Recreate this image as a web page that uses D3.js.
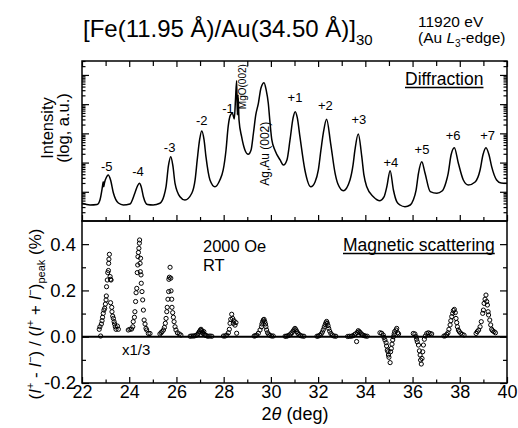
<!DOCTYPE html>
<html>
<head>
<meta charset="utf-8">
<script src="https://cdn.jsdelivr.net/npm/d3@7/dist/d3.min.js"></script>
<style>
  body { margin: 0; background: #fff; }
  svg text { font-family: "Liberation Sans", Arial, Helvetica, sans-serif; fill: #000; }
</style>
</head>
<body>
<svg id="chart" width="518" height="428"></svg>
<script>
// ---- Diffraction scan (2θ in deg, intensity in arbitrary log units) ----
const diffTheta = [
  22.00,22.34,22.64,22.76,22.87,22.90,22.92,22.95,23.04,23.11,
  23.21,23.33,23.54,23.75,24.03,24.24,24.35,24.43,24.51,24.60,
  24.77,25.01,25.30,25.47,25.56,25.66,25.76,25.85,25.94,26.15,
  26.36,26.65,26.79,26.88,26.98,27.07,27.17,27.25,27.42,27.63,
  27.84,27.98,28.10,28.19,28.29,28.37,28.45,28.50,28.55,28.58,
  28.61,28.65,28.76,28.90,29.04,29.16,29.26,29.36,29.47,29.58,
  29.71,29.80,29.89,29.96,30.04,30.18,30.39,30.53,30.68,30.81,
  30.94,31.03,31.12,31.23,31.44,31.69,31.87,32.01,32.12,32.22,
  32.36,32.53,32.72,32.84,33.07,33.35,33.48,33.56,33.70,33.85,
  33.94,34.06,34.34,34.62,34.79,34.91,35.05,35.19,35.33,35.47,
  35.68,35.90,36.03,36.15,36.25,36.39,36.53,36.75,37.03,37.25,
  37.42,37.51,37.63,37.77,37.94,38.15,38.36,38.65,38.86,38.98,
  39.11,39.24,39.35,39.56,39.75,40.00
];
const diffIntensity = [
  4.04,3.53,3.67,5.24,15.8,22.2,14.9,20.0,32.1,37.6,
  25.4,9.10,4.13,3.53,3.82,9.10,15.8,19.5,14.6,6.80,
  3.67,3.53,4.04,7.18,14.9,76.5,159,76.5,19.5,6.80,
  5.24,8.89,25.4,123,594,1210,594,159,25.4,14.9,
  25.4,55.8,270,1700,4270,4880,3110,13900,63800,4270,
  20700,2880,771,270,192,270,1010,4270,10700,35900,
  54500,30600,10700,2460,594,256,123,82.8,123,594,
  3370,5540,3370,771,55.8,14.9,21.7,55.8,270,1010,
  3040,458,43.0,18.5,10.9,25.4,82.8,270,954,159,
  37.6,14.9,6.80,4.96,6.64,14.9,52.8,11.5,4.58,3.53,
  3.09,3.53,5.24,11.5,43.0,107,43.0,10.1,8.89,10.6,
  21.7,43.0,182,324,94.6,25.4,17.1,21.7,55.8,182,
  324,182,72.4,25.4,20.0,19.5
];

// Satellite order labels and where they sit (2θ, intensity)
const orderLabels    = ["-5","-4","-3","-2","-1","+1","+2","+3","+4","+5","+6","+7"];
const orderLabelAt   = [23.05,24.37,25.71,27.07,28.18,31.02,32.31,33.73,35.08,36.40,37.72,39.18];
const orderLabelInt  = [51.5,35.6,236,1940,5110,11600,6330,2050,72.4,197,594,594];

// ---- Magnetic asymmetry (I+ - I-)/(I+ + I-)peak in %, per satellite ----
const magTheta = [
  22.73,22.76,22.79,22.82,22.85,22.87,22.90,22.93,22.96,22.99,23.02,23.03,23.04,23.07,23.09,23.12,23.13,23.14,23.16,23.19,23.21,23.23,23.21,23.26,23.27,23.30,23.33,23.36,23.38,23.41,23.44,23.50,23.54,
  23.96,24.03,24.10,24.15,24.17,24.22,24.24,24.27,24.29,24.32,24.34,24.36,24.37,24.39,24.41,24.43,24.44,24.46,24.47,24.48,24.50,24.51,24.54,24.57,24.60,24.63,24.67,24.71,24.74,24.81,24.88,
  25.30,25.35,25.39,25.45,25.49,25.53,25.56,25.59,25.61,25.64,25.67,25.68,25.70,25.73,25.76,25.77,25.80,25.81,25.84,25.87,25.90,25.94,25.98,26.04,26.12,26.19,
  26.58,26.65,26.72,26.78,26.84,26.89,26.93,26.97,27.01,27.04,27.07,27.10,27.13,27.16,27.19,27.23,27.28,27.34,27.42,27.50,
  27.99,28.06,28.13,28.20,28.24,28.27,28.30,28.34,28.38,28.41,28.44,28.48,28.52,28.55,
  29.29,29.34,29.40,29.47,29.54,29.60,29.62,29.65,29.68,29.71,29.74,29.77,29.79,29.82,29.86,29.91,29.96,30.03,30.10,
  30.60,30.66,30.72,30.78,30.84,30.89,30.94,30.98,31.02,31.06,31.10,31.14,31.19,31.25,31.32,31.40,
  31.95,32.01,32.07,32.13,32.18,32.22,32.26,32.30,32.33,32.36,32.39,32.42,32.45,32.49,32.54,32.60,32.67,32.75,
  33.25,33.32,33.40,33.47,33.53,33.58,33.63,33.66,33.70,33.74,33.78,33.83,33.88,33.94,34.00,34.08,
  34.62,34.69,34.76,34.79,34.83,34.88,34.90,34.93,34.96,34.98,35.00,35.05,35.07,35.10,35.13,35.16,35.19,35.22,35.24,35.30,35.33,35.37,35.41,
  36.03,36.10,36.15,36.17,36.20,36.25,36.29,36.32,36.34,36.37,36.40,36.43,36.46,36.50,36.54,36.60,36.67,36.74,36.81,
  37.33,37.39,37.45,37.50,37.54,37.59,37.62,37.66,37.70,37.73,37.77,37.81,37.84,37.87,37.90,37.94,37.98,38.04,38.10,38.18,
  38.69,38.74,38.80,38.86,38.91,38.97,39.00,39.03,39.07,39.11,39.14,39.17,39.20,39.22,39.27,39.31,39.35,39.39,39.45,39.51
];
const magAsym = [
  0.032,0.043,0.003,0.055,0.069,0.084,0.101,0.115,0.123,0.141,0.159,0.176,0.216,0.245,0.277,0.286,0.317,0.335,0.356,0.260,0.248,0.245,0.147,0.127,0.108,0.089,0.079,0.065,0.055,0.043,0.032,0.046,0.032,
  0.029,0.032,0.033,0.043,0.065,0.084,0.108,0.152,0.190,0.209,0.277,0.310,0.346,0.364,0.382,0.404,0.418,0.317,0.281,0.339,0.267,0.231,0.195,0.159,0.115,0.072,0.055,0.036,0.029,0.014,0.014,
  0.012,0.017,0.022,0.029,0.040,0.058,0.079,0.108,0.127,0.162,0.195,0.248,0.257,0.300,0.253,0.198,0.162,0.127,0.104,0.084,0.065,0.043,0.029,0.017,0.012,0.007,
  0.002,0.003,0.003,0.004,0.006,0.010,0.015,0.022,0.028,0.032,0.026,0.020,0.014,0.022,0.010,0.006,0.004,0.002,0.003,0.002,
  0.003,0.003,0.007,0.017,0.032,0.058,0.075,0.097,0.079,0.058,0.069,0.050,0.061,0.015,
  0.003,0.004,0.007,0.015,0.029,0.043,0.055,0.065,0.072,0.075,0.065,0.055,0.043,0.029,0.017,0.010,0.006,0.003,0.003,
  0.002,0.002,0.004,0.007,0.012,0.017,0.024,0.030,0.036,0.030,0.022,0.015,0.010,0.005,0.003,0.002,
  0.002,0.003,0.006,0.012,0.020,0.030,0.042,0.052,0.060,0.066,0.058,0.048,0.036,0.024,0.014,0.007,0.003,0.002,
  0.001,0.002,0.002,0.004,0.008,0.012,-0.021,0.018,0.026,0.022,0.018,0.012,0.008,0.005,0.003,0.002,
  0.017,0.015,0.007,-0.003,-0.014,-0.026,-0.040,-0.058,-0.065,-0.079,-0.089,-0.112,-0.065,-0.051,-0.032,-0.014,0.000,0.012,0.022,0.029,0.036,0.017,0.012,
  0.014,0.012,0.000,-0.011,-0.022,-0.036,-0.061,-0.079,-0.101,-0.118,-0.094,-0.065,-0.036,-0.011,0.003,0.014,0.017,0.014,0.012,
  0.003,0.004,0.010,0.017,0.032,0.051,0.069,0.087,0.101,0.113,0.118,0.104,0.079,0.061,0.043,0.029,0.022,0.015,0.010,0.007,
  0.014,0.022,0.029,0.043,0.065,0.101,0.115,0.144,0.162,0.180,0.152,0.137,0.108,0.094,0.072,0.051,0.032,0.026,0.022,0.017
];

// ---- Axis ticks ----
const thetaMajor = [22,24,26,28,30,32,34,36,38,40];
const thetaMinor = [23,25,27,29,31,33,35,37,39];
const asymMajor  = [-0.2,0.0,0.2,0.4];
const asymMinor  = [-0.1,0.1,0.3];
const logMajor   = [10,100,1e3,1e4,1e5];

const svg = d3.select("#chart");
const L = 82, R = 507, T1 = 61, B1 = 221, B2 = 383;

const x = d3.scaleLinear().domain([22, 40]).range([L, R]);
const yDiff = d3.scaleLog().domain([1, 3e5]).range([B1, T1]);
const yMag = d3.scaleLinear().domain([-0.2, 0.5]).range([B2, B1]);

const logMinor = [];
for (let d = 1; d <= 1e5; d *= 10)
  for (let k = 2; k <= 9; k++) if (k * d <= 3e5) logMinor.push(k * d);

function tickAxis(axis, values, size, tx, ty) {
  const g = svg.append("g").attr("transform", `translate(${tx},${ty})`)
    .call(axis.tickValues(values).tickSize(size).tickFormat(""));
  g.select(".domain").remove();
  g.selectAll("line").attr("stroke", "#000").attr("stroke-width", 1.2);
  return g;
}

// top panel ticks
tickAxis(d3.axisBottom(x), thetaMajor, 6, 0, T1);
tickAxis(d3.axisBottom(x), thetaMinor, 5, 0, T1);
tickAxis(d3.axisTop(x), thetaMajor, 6, 0, B1);
tickAxis(d3.axisTop(x), thetaMinor, 4, 0, B1);
tickAxis(d3.axisRight(yDiff), logMajor, 7, L, 0);
tickAxis(d3.axisRight(yDiff), logMinor, 3.5, L, 0);
tickAxis(d3.axisLeft(yDiff), logMajor, 7, R, 0);
tickAxis(d3.axisLeft(yDiff), logMinor, 3.5, R, 0);

// bottom panel ticks and labels
const xAxis = svg.append("g").attr("transform", `translate(0,${B2})`)
  .call(d3.axisBottom(x).tickValues(thetaMajor).tickSizeInner(-6).tickSizeOuter(0)
    .tickPadding(2).tickFormat(d3.format("d")));
xAxis.select(".domain").remove();
xAxis.selectAll("line").attr("stroke", "#000").attr("stroke-width", 1.2);
xAxis.selectAll("text").attr("font-size", 18).attr("font-family", null);
tickAxis(d3.axisTop(x), thetaMinor, 3.5, 0, B2);

const yAxis = svg.append("g").attr("transform", `translate(${L},0)`)
  .call(d3.axisLeft(yMag).tickValues(asymMajor).tickSizeInner(-7).tickSizeOuter(0)
    .tickPadding(6).tickFormat(d3.format(".1f")));
yAxis.select(".domain").remove();
yAxis.selectAll("line").attr("stroke", "#000").attr("stroke-width", 1.2);
yAxis.selectAll("text").attr("font-size", 18.5).attr("font-family", null)
  .text(d => d3.format(".1f")(d).replace("−", "-"));
tickAxis(d3.axisRight(yMag), asymMinor, 4, L, 0);
tickAxis(d3.axisLeft(yMag), asymMajor, 7, R, 0);
tickAxis(d3.axisLeft(yMag), asymMinor, 4, R, 0);

// zero line
svg.append("line")
  .attr("x1", L).attr("x2", R).attr("y1", yMag(0)).attr("y2", yMag(0))
  .attr("stroke", "#000").attr("stroke-width", 2);

// diffraction curve
const diffData = diffTheta.map((t, i) => [t, diffIntensity[i]]);
svg.append("path")
  .datum(diffData)
  .attr("fill", "none").attr("stroke", "#000").attr("stroke-width", 1.5)
  .attr("stroke-linejoin", "round")
  .attr("d", d3.line().x(d => x(d[0])).y(d => yDiff(d[1])).curve(d3.curveMonotoneX));

// magnetic asymmetry points
const magData = magTheta.map((t, i) => [t, magAsym[i]]);
svg.append("g").selectAll("circle").data(magData).join("circle")
  .attr("cx", d => x(d[0])).attr("cy", d => yMag(d[1])).attr("r", 2.1)
  .attr("fill", "none").attr("stroke", "#000").attr("stroke-width", 1);

// panel frames
svg.append("rect").attr("x", L).attr("y", T1).attr("width", R - L).attr("height", B1 - T1)
  .attr("fill", "none").attr("stroke", "#000").attr("stroke-width", 1.5);
svg.append("rect").attr("x", L).attr("y", B1).attr("width", R - L).attr("height", B2 - B1)
  .attr("fill", "none").attr("stroke", "#000").attr("stroke-width", 1.5);

// order labels above satellites
svg.append("g").selectAll("text").data(orderLabels).join("text")
  .attr("x", (d, i) => x(orderLabelAt[i])).attr("y", (d, i) => yDiff(orderLabelInt[i]))
  .attr("text-anchor", "middle").attr("font-size", 13).text(d => d);

// rotated peak annotations
svg.append("text")
  .attr("transform", `translate(${x(28.95)},${yDiff(63800) + 6}) rotate(-90)`)
  .attr("text-anchor", "middle").attr("font-size", 10).text("MgO(002)");
svg.append("text")
  .attr("transform", `translate(${x(29.92)},${yDiff(200)}) rotate(-90)`)
  .attr("text-anchor", "middle").attr("font-size", 12).text("Ag,Au (002)");

// panel captions
const diffCap = svg.append("text").attr("x", 405).attr("y", 85).attr("font-size", 17.5).text("Diffraction");
const magCap = svg.append("text").attr("x", 343).attr("y", 251).attr("font-size", 17.5).text("Magnetic scattering");
[diffCap, magCap].forEach(t => {
  const b = t.node().getBBox();
  svg.append("line").attr("x1", b.x).attr("x2", b.x + b.width)
    .attr("y1", +t.attr("y") + 2.5).attr("y2", +t.attr("y") + 2.5)
    .attr("stroke", "#000").attr("stroke-width", 1.5);
});

svg.append("text").attr("x", 203).attr("y", 252).attr("font-size", 16.5).text("2000 Oe");
svg.append("text").attr("x", 203).attr("y", 271).attr("font-size", 16.5).text("RT");
svg.append("text").attr("x", 122).attr("y", 355).attr("font-size", 15).text("x1/3");

// title
const title = svg.append("text").attr("x", 83).attr("y", 37).attr("font-size", 24);
title.append("tspan").text("[Fe(11.95 Å)/Au(34.50 Å)]");
title.append("tspan").attr("font-size", 15).attr("dy", 8).text("30");

svg.append("text").attr("x", 418).attr("y", 27).attr("font-size", 15.5).text("11920 eV");
const edge2 = svg.append("text").attr("x", 418).attr("y", 43).attr("font-size", 15.5);
edge2.append("tspan").text("(Au ");
edge2.append("tspan").attr("font-style", "italic").text("L");
edge2.append("tspan").attr("font-size", 10).attr("dy", 4).text("3");
edge2.append("tspan").attr("dy", -4).text("-edge)");

// axis titles
svg.append("text").attr("transform", "translate(53,128) rotate(-90)")
  .attr("text-anchor", "middle").attr("font-size", 16.5).text("Intensity");
svg.append("text").attr("transform", "translate(69,128) rotate(-90)")
  .attr("text-anchor", "middle").attr("font-size", 16.5).text("(log, a.u.)");

const yl = svg.append("text").attr("transform", "translate(41,314) rotate(-90)")
  .attr("text-anchor", "middle").attr("font-size", 17);
yl.append("tspan").text("(");
yl.append("tspan").attr("font-style", "italic").text("I");
yl.append("tspan").attr("font-size", 11).attr("dy", -7).text("+");
yl.append("tspan").attr("dy", 7).text(" - ");
yl.append("tspan").attr("font-style", "italic").text("I");
yl.append("tspan").attr("font-size", 11).attr("dy", -7).text("−");
yl.append("tspan").attr("dy", 7).text(") / (");
yl.append("tspan").attr("font-style", "italic").text("I");
yl.append("tspan").attr("font-size", 11).attr("dy", -7).text("+");
yl.append("tspan").attr("dy", 7).text(" + ");
yl.append("tspan").attr("font-style", "italic").text("I");
yl.append("tspan").attr("font-size", 11).attr("dy", -7).text("−");
yl.append("tspan").attr("dy", 7).text(")");
yl.append("tspan").attr("font-size", 11).attr("dy", 4).text("peak");
yl.append("tspan").attr("dy", -4).text(" (%)");

const xl = svg.append("text").attr("x", 295).attr("y", 420)
  .attr("text-anchor", "middle").attr("font-size", 18);
xl.append("tspan").text("2");
xl.append("tspan").attr("font-style", "italic").text("θ");
xl.append("tspan").text(" (deg)");
</script>
</body>
</html>
